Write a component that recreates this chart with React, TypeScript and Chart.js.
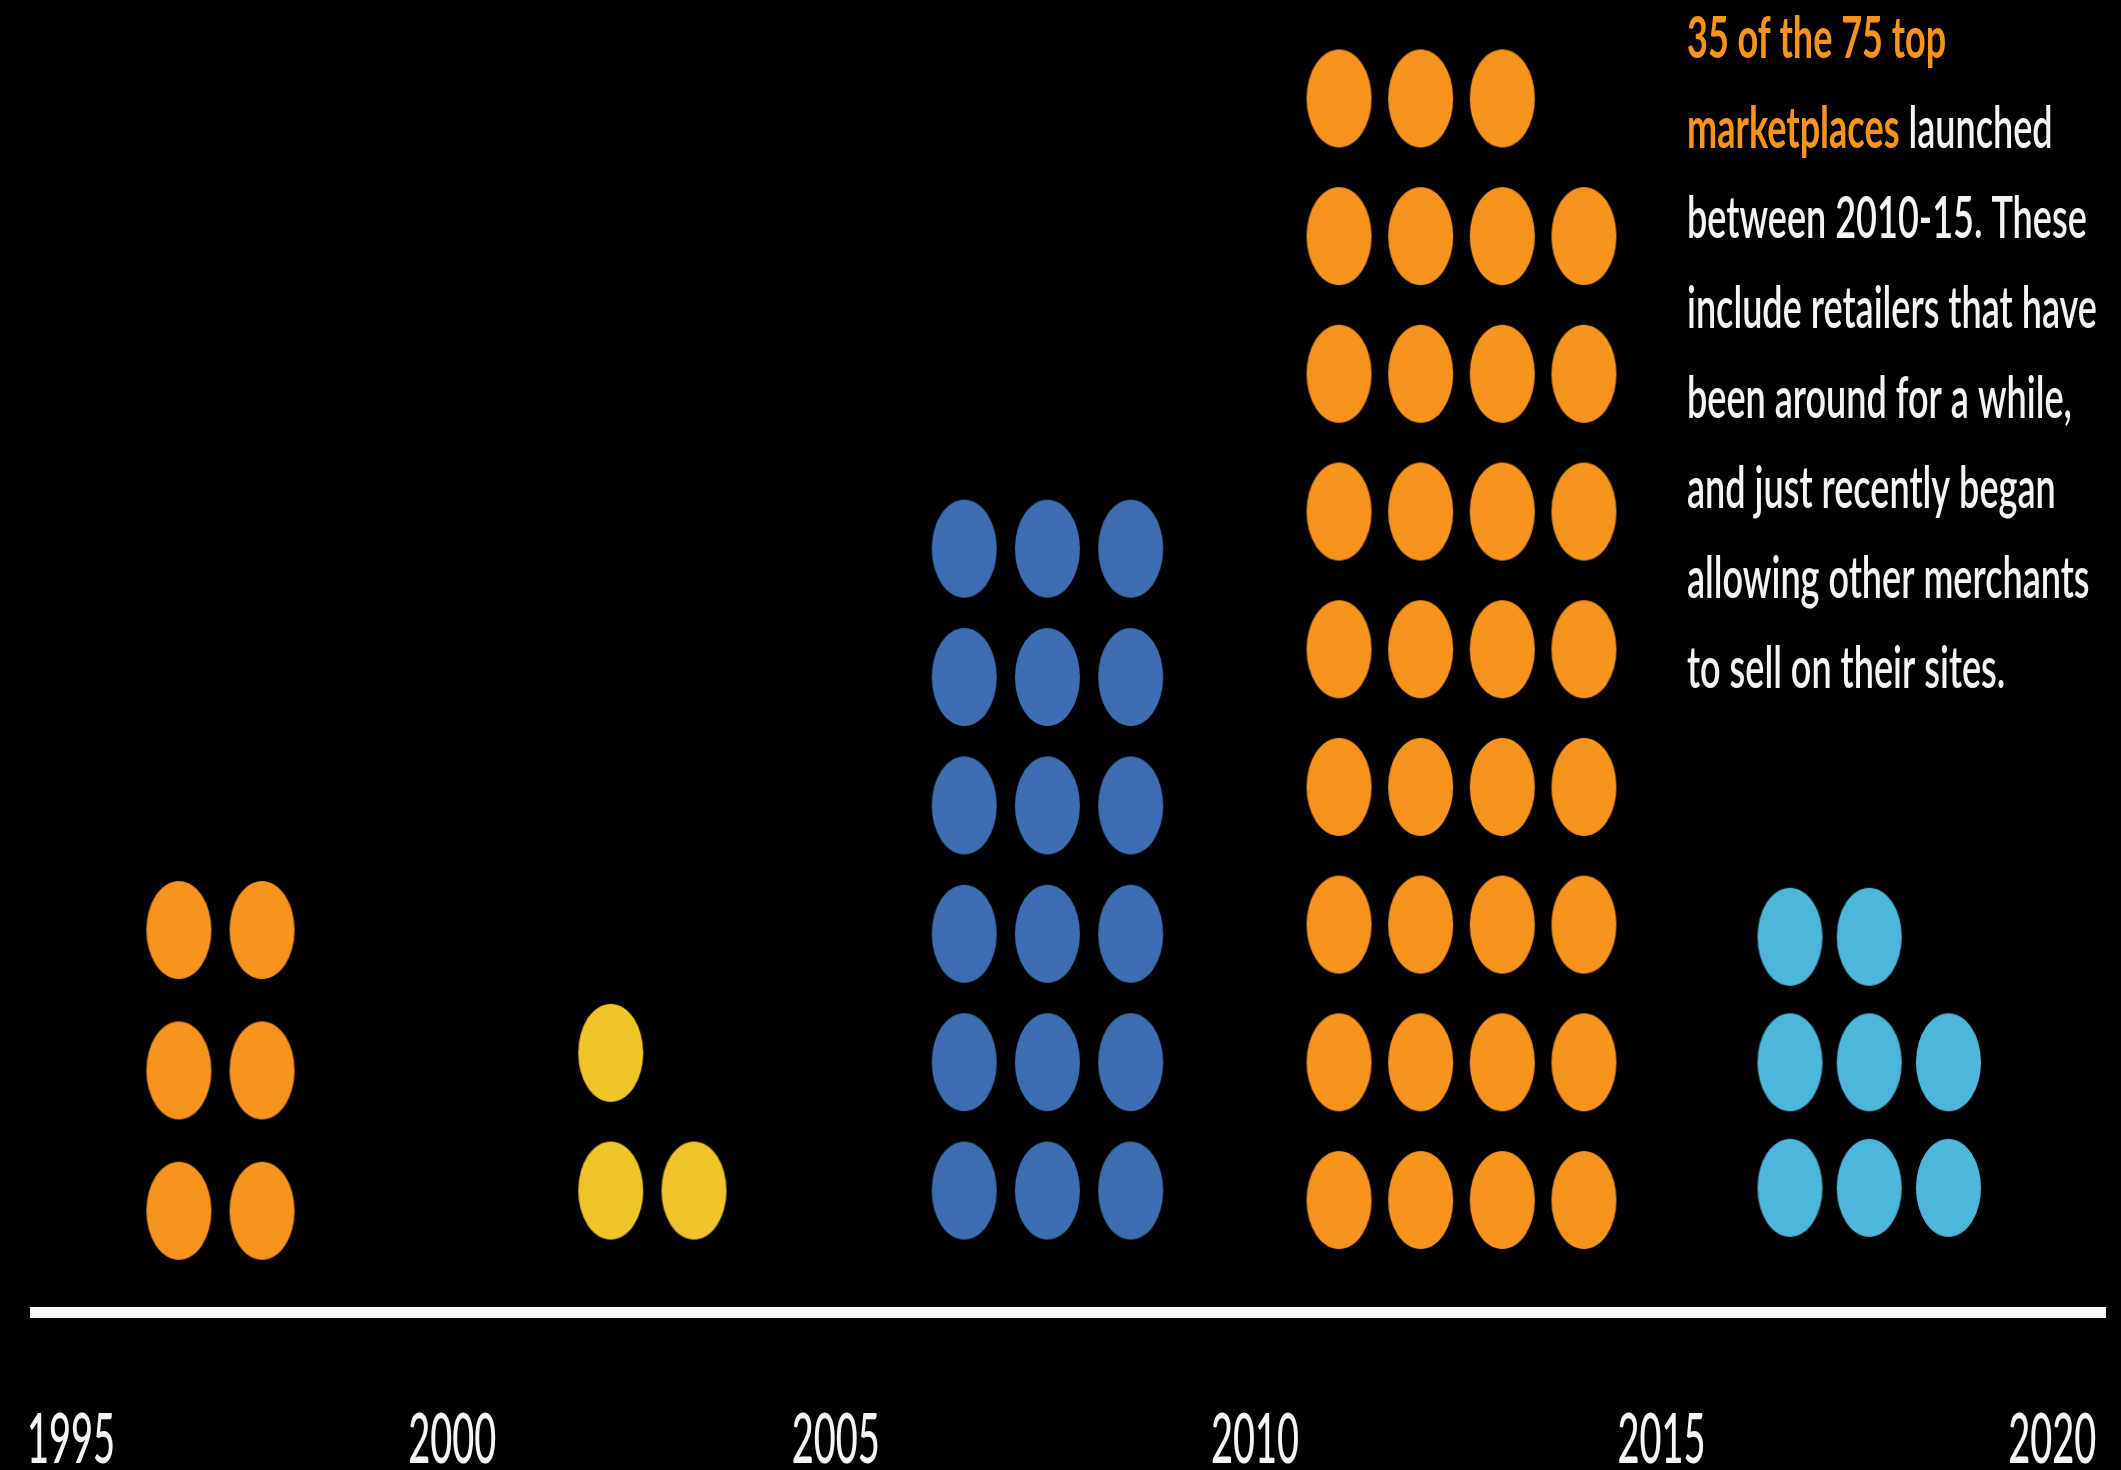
import { useEffect, useRef } from 'react';
import { Chart, registerables } from 'chart.js';

Chart.register(...registerables);

// ---------- DATA ----------
const groupNames = ['1995–99', '2000–04', '2005–09', '2010–15', '2016–20'];
// number of dots in each row of a group, bottom row first (one dot = one marketplace)
const rows1995 = [2, 2, 2];
const rows2000 = [2, 1];
const rows2005 = [3, 3, 3, 3, 3, 3];
const rows2010 = [4, 4, 4, 4, 4, 4, 4, 4, 3];
const rows2016 = [3, 3, 2];

const tickLabels = ['1995', '2000', '2005', '2010', '2015', '2020'];
const tickPositions = [1995, 1999.81, 2004.65, 2009.94, 2015.07, 2020];

const noteLines: { text: string; hi?: boolean }[][] = [
  [{ text: '35 of the 75 top', hi: true }],
  [{ text: 'marketplaces', hi: true }, { text: ' launched' }],
  [{ text: 'between 2010-15. These' }],
  [{ text: 'include retailers that have' }],
  [{ text: 'been around for a while,' }],
  [{ text: 'and just recently began' }],
  [{ text: 'allowing other merchants' }],
  [{ text: 'to sell on their sites.' }],
];

// ---------- LAYOUT / STYLE ----------
const W = 2121;
const H = 1470;
const XMIN = 1994.545;
const XMAX = 2020.665;
const YMIN = -0.8296;
const YMAX = 8.889;

const ORANGE = '#F7941D';
const YELLOW = '#F0C528';
const BLUE = '#3D6EB2';
const LIGHTBLUE = '#4DB6DB';
const TEXT_WHITE = '#F4F4F4';

const groupLayout = [
  { x0: 1996.36, dx: 1.05, y0: -0.08, dy: 1.04 },
  { x0: 2001.81, dx: 1.05, y0: 0.07, dy: 1.02 },
  { x0: 2006.27, dx: 1.05, y0: 0.07, dy: 0.951 },
  { x0: 2011.0, dx: 1.03, y0: 0.0, dy: 1.02 },
  { x0: 2016.69, dx: 1.0, y0: 0.09, dy: 0.93 },
];
const groupRows = [rows1995, rows2000, rows2005, rows2010, rows2016];
const groupColors = [ORANGE, YELLOW, BLUE, ORANGE, LIGHTBLUE];

const DOT_W = 67;
const DOT_H = 100;

function ellipseImage(color: string) {
  const c = document.createElement('canvas');
  c.width = DOT_W;
  c.height = DOT_H;
  const ctx = c.getContext('2d')!;
  ctx.fillStyle = color;
  ctx.beginPath();
  ctx.ellipse(DOT_W / 2, DOT_H / 2, DOT_W / 2 - 1, DOT_H / 2 - 1, 0, 0, Math.PI * 2);
  ctx.fill();
  return c;
}

function buildDots(rows: number[], lay: { x0: number; dx: number; y0: number; dy: number }) {
  const pts: { x: number; y: number }[] = [];
  rows.forEach((n, r) => {
    for (let c = 0; c < n; c++) pts.push({ x: lay.x0 + c * lay.dx, y: lay.y0 + r * lay.dy });
  });
  return pts;
}

const bgPlugin = {
  id: 'bg',
  beforeDraw(chart: any) {
    const ctx = chart.ctx;
    ctx.save();
    ctx.fillStyle = '#000';
    ctx.fillRect(0, 0, chart.width, chart.height);
    ctx.restore();
  },
};

const textPlugin = {
  id: 'texts',
  afterDraw(chart: any) {
    const ctx = chart.ctx as CanvasRenderingContext2D;
    const xs = chart.scales.x;
    // tick labels (condensed)
    ctx.save();
    ctx.font = '500 70px Lato';
    ctx.fillStyle = TEXT_WHITE;
    ctx.textAlign = 'center';
    ctx.textBaseline = 'alphabetic';
    const tsx = 88 / ctx.measureText('1995').width;
    xs.ticks.forEach((t: any) => {
      const x = xs.getPixelForValue(t.value);
      ctx.save();
      ctx.translate(x, 1463);
      ctx.scale(tsx, 1);
      ctx.fillText(String(t.label), 0, 0);
      ctx.restore();
    });
    ctx.restore();

    // annotation
    ctx.save();
    ctx.font = '600 58px Lato';
    const nsx = 410 / ctx.measureText('include retailers that have').width;
    ctx.textAlign = 'left';
    ctx.textBaseline = 'alphabetic';
    noteLines.forEach((segs, k) => {
      ctx.save();
      ctx.translate(1687, 58 + k * 90);
      ctx.scale(nsx, 1);
      let cx = 0;
      segs.forEach((s) => {
        ctx.font = (s.hi ? 'bold ' : '600 ') + '58px Lato';
        ctx.fillStyle = s.hi ? ORANGE : TEXT_WHITE;
        ctx.fillText(s.text, cx, 0);
        cx += ctx.measureText(s.text).width;
      });
      ctx.restore();
    });
    ctx.restore();
  },
};

export default function App() {
  const ref = useRef<HTMLCanvasElement>(null);
  useEffect(() => {
    document.body.style.margin = '0';
    document.body.style.background = '#000';
    const datasets = groupRows.map((rows, i) => ({
      type: 'scatter' as const,
      label: groupNames[i],
      data: buildDots(rows, groupLayout[i]),
      pointStyle: ellipseImage(groupColors[i]),
      pointRadius: 1,
      backgroundColor: groupColors[i],
      borderWidth: 0,
    }));
    const chart = new Chart(ref.current!, {
      type: 'scatter',
      data: { datasets: datasets as any },
      options: {
        animation: false,
        responsive: false,
        devicePixelRatio: 1,
        events: [],
        layout: { autoPadding: false, padding: { left: 35, right: 16, top: 0, bottom: 158 } },
        plugins: { legend: { display: false }, tooltip: { enabled: false } },
        scales: {
          x: {
            type: 'linear',
            min: XMIN,
            max: XMAX,
            position: 'bottom',
            grid: { display: false, drawTicks: false },
            border: { display: true, color: '#F8F8F8', width: 11 },
            ticks: { display: false, callback: (_v: any, i: number) => tickLabels[i] },
            afterBuildTicks: (s: any) => {
              s.ticks = tickPositions.map((v) => ({ value: v }));
            },
          },
          y: { type: 'linear', min: YMIN, max: YMAX, display: false },
        },
      },
      plugins: [bgPlugin, textPlugin],
    });
    return () => chart.destroy();
  }, []);
  return (
    <div style={{ position: 'absolute', left: 0, top: 0, width: W, height: H, background: '#000' }}>
      <canvas ref={ref} width={W} height={H} style={{ display: 'block', width: W, height: H }} />
    </div>
  );
}
